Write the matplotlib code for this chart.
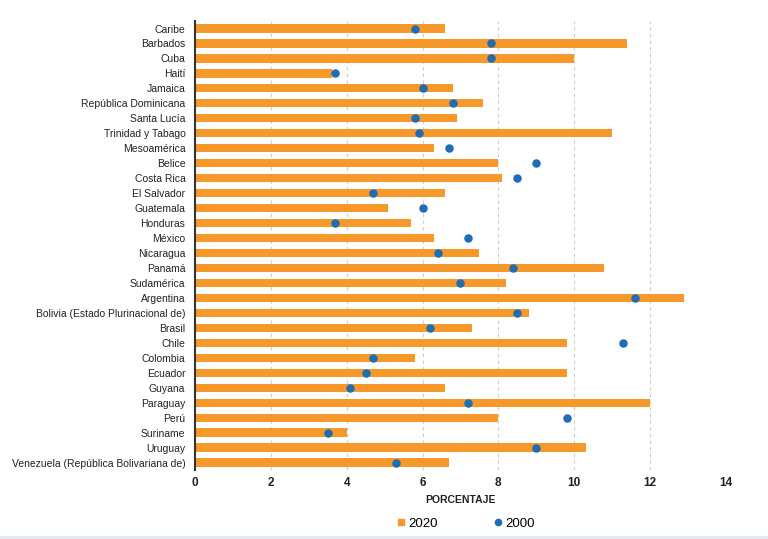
import matplotlib.pyplot as plt
from matplotlib.lines import Line2D

paises = ["Caribe", "Barbados", "Cuba", "Haití", "Jamaica", "República Dominicana",
          "Santa Lucía", "Trinidad y Tabago", "Mesoamérica", "Belice", "Costa Rica",
          "El Salvador", "Guatemala", "Honduras", "México", "Nicaragua", "Panamá",
          "Sudamérica", "Argentina", "Bolivia (Estado Plurinacional de)", "Brasil",
          "Chile", "Colombia", "Ecuador", "Guyana", "Paraguay", "Perú", "Suriname",
          "Uruguay", "Venezuela (República Bolivariana de)"]

valores_2020 = [6.6, 11.4, 10.0, 3.6, 6.8, 7.6, 6.9, 11.0, 6.3, 8.0, 8.1,
                6.6, 5.1, 5.7, 6.3, 7.5, 10.8, 8.2, 12.9, 8.8, 7.3,
                9.8, 5.8, 9.8, 6.6, 12.0, 8.0, 4.0, 10.3, 6.7]

valores_2000 = [5.8, 7.8, 7.8, 3.7, 6.0, 6.8, 5.8, 5.9, 6.7, 9.0, 8.5,
                4.7, 6.0, 3.7, 7.2, 6.4, 8.4, 7.0, 11.6, 8.5, 6.2,
                11.3, 4.7, 4.5, 4.1, 7.2, 9.8, 3.5, 9.0, 5.3]

naranja = "#F7982B"
azul = "#1F6DB3"

plt.rcParams['font.family'] = ['Liberation Sans', 'DejaVu Sans']

fig = plt.figure(figsize=(7.68, 5.39), dpi=100)
ax = fig.add_axes([0.254, 0.128, 0.691, 0.833])

pos = list(range(len(paises)))
ax.barh(pos, valores_2020, height=0.55, color=naranja, zorder=2)
ax.scatter(valores_2000, pos, s=26, color=azul, zorder=3)

ax.set_xlim(0, 14)
ax.set_ylim(len(paises) - 0.5, -0.5)
ax.set_yticks(pos)
ax.set_yticklabels(paises, fontsize=7.5, color="#222222")
ax.set_xticks(range(0, 15, 2))
ax.set_xticklabels([str(v) for v in range(0, 15, 2)], fontsize=8.5,
                   fontweight="bold", color="#222222")
ax.tick_params(axis="both", length=0)
ax.tick_params(axis="x", pad=5)
ax.tick_params(axis="y", pad=7)

ax.grid(axis="x", linestyle=(0, (3, 3)), color="#cccccc", linewidth=0.8, zorder=0)
for lado in ["top", "right", "bottom"]:
    ax.spines[lado].set_visible(False)
ax.spines["left"].set_color("#333333")
ax.spines["left"].set_linewidth(1.5)
ax.spines["left"].set_zorder(4)

ax.set_xlabel("PORCENTAJE", fontsize=7.5, fontweight="bold", color="#222222",
              labelpad=4)

handles = [Line2D([], [], marker="s", color=naranja, linestyle="", markersize=5),
           Line2D([], [], marker="o", color=azul, linestyle="", markersize=4.5)]
fig.legend(handles, ["2020", "2000"], loc="center", bbox_to_anchor=(0.605, 0.028),
           ncol=2, frameon=False, fontsize=9.5, handletextpad=0.05,
           columnspacing=4.0, handlelength=1.0)

fig.add_artist(Line2D([0, 1], [0.003, 0.003], color="#e3e8ec", linewidth=2))

fig.savefig("out.png", dpi=100)
